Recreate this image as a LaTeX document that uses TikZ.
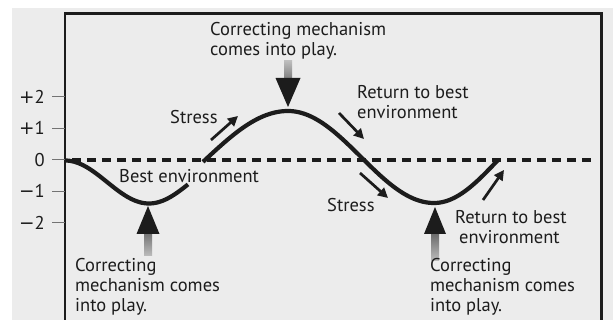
\documentclass[tikz,border=0pt]{standalone}
\usepackage{fontspec}
\setmainfont{PT Sans}
\newfontfamily\signfont{DejaVu Sans}
\usetikzlibrary{arrows.meta}
\definecolor{bg}{RGB}{236,236,236}
\definecolor{ink}{RGB}{28,28,28}
\newcommand\mlines[1]{\begin{tabular}[t]{@{}l@{}}#1\end{tabular}}
\begin{document}
\begin{tikzpicture}[x=1pt,y=-1pt,
  lbl/.style={font=\fontsize{18.5}{20}\selectfont, text=ink, inner sep=0pt, anchor=base west},
  axlbl/.style={font=\fontsize{18.5}{20}\selectfont, text=ink, inner sep=0pt, anchor=base east},
  frame/.style={draw=ink, line width=2.6pt},
  tick/.style={draw=black!55, line width=1pt},
  zero/.style={draw=ink, line width=4.5pt, dash pattern=on 9pt off 6pt},
  curve/.style={draw=ink, line width=4.2pt, line join=round},
  sarrow/.style={draw=ink, line width=2.7pt, -{Triangle[length=10pt,width=10pt]}},
  headfill/.style={fill=ink}]
\useasboundingbox (0,0) rectangle (613,320);
\fill[bg] (12,8) rectangle (613,320);
\draw[frame] (65,322) -- (65,13.5) -- (601.5,13.5) -- (601.5,322);
% axis ticks and labels
\foreach \y/\t [count=\i] in {97/{{\signfont +}2},128.5/{{\signfont +}1},160/0,191.5/{{\signfont −}1},223/{{\signfont −}2}}{
  \draw[tick] (52,\y) -- (65,\y);
  \node[axlbl] (ax\i) at (45,\y+6.5) {\t};
}
% zero (best environment) line
\coordinate (z0) at (72,160);
\coordinate (z1) at (591,160);
\draw[zero] (z0) -- (z1);
% curves
\draw[curve] plot[domain=65:188, samples=70] (\x,{182-21.5*cos((\x-65)/84*180)});
\draw[curve] plot[domain=203:288, samples=50] (\x,{160-49*sin((\x-205)/83*90)})
  -- plot[domain=288:434, samples=80] (\x,{157-46*cos((\x-288)/146*180)})
  -- plot[domain=434:498, samples=40] (\x,{160+43*cos((\x-434)/64*90)});
% big gradient arrows
\coordinate (tipT) at (288,107);
\coordinate (tipL) at (148,206);
\coordinate (tipR) at (435,207);
\shade[top color=bg!80!black, bottom color=ink] (tipT) ++(-4,-46) rectangle ++(8,20);
\fill[headfill] (tipT) -- ++(-12.5,-29) -- ++(25,0) -- cycle;
\shade[top color=ink, bottom color=bg!80!black] (tipL) ++(-4,26) rectangle ++(8,24);
\fill[headfill] (tipL) -- ++(-11.5,28) -- ++(23,0) -- cycle;
\shade[top color=ink, bottom color=bg!80!black] (tipR) ++(-4,24) rectangle ++(8,30);
\fill[headfill] (tipR) -- ++(-11,27) -- ++(22,0) -- cycle;
% small arrows
\coordinate (s1a) at (211,140); \coordinate (s1b) at (238,116);
\coordinate (r1a) at (339,113); \coordinate (r1b) at (364,139);
\coordinate (s2a) at (360,173); \coordinate (s2b) at (388,198);
\coordinate (r2a) at (483,200); \coordinate (r2b) at (504,170);
\draw[sarrow] (s1a) -- (s1b);
\draw[sarrow] (r1a) -- (r1b);
\draw[sarrow] (s2a) -- (s2b);
\draw[sarrow] (r2a) -- (r2b);
% texts
\node[lbl] (ctop) at (210,36) {\mlines{Correcting mechanism\\comes into play.}};
\node[lbl] (stress1) at (170,124) {Stress};
\node[lbl] (best) at (119,183) {Best environment};
\node[lbl] (ret1) at (357,99) {\mlines{Return to best\\environment}};
\node[lbl] (stress2) at (327,212) {Stress};
\node[lbl] (ret2) at (455,224) {\mlines{Return to best\\\hspace{4pt}environment}};
\node[lbl] (cl) at (75,271.5) {\mlines{Correcting\\mechanism comes\\into play.}};
\node[lbl] (cr) at (430,272) {\mlines{Correcting\\mechanism comes\\into play.}};
\end{tikzpicture}
\end{document}
